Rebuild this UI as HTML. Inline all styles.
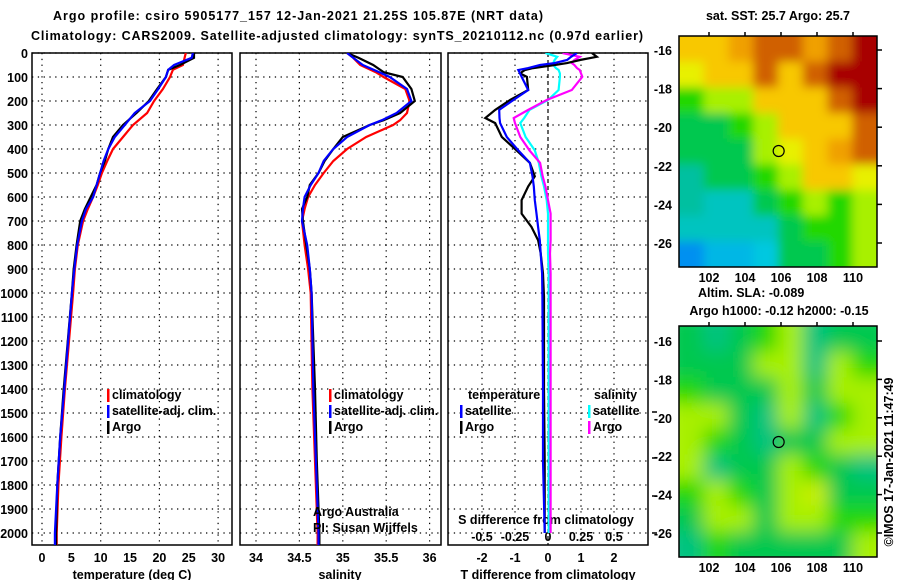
<!DOCTYPE html>
<html><head><meta charset="utf-8"><style>
html,body{margin:0;padding:0;background:#fff;}
svg{display:block;font-family:"Liberation Sans",sans-serif;}
.b{font-weight:bold;font-size:12.5px;}
</style></head><body>
<svg id="c" width="900" height="580" viewBox="0 0 900 580">
<defs>
<clipPath id="cp1"><rect x="32" y="53" width="200" height="492"/></clipPath>
<clipPath id="cp2"><rect x="240" y="53" width="201" height="492"/></clipPath>
<clipPath id="cp3"><rect x="448" y="53" width="200" height="492"/></clipPath>
<clipPath id="cm1"><rect x="679" y="36" width="198" height="231"/></clipPath>
<clipPath id="cm2"><rect x="679" y="326" width="198" height="231"/></clipPath>
<filter id="bl1" x="-10%" y="-10%" width="120%" height="120%"><feGaussianBlur stdDeviation="5"/></filter>
<filter id="bl2" x="-10%" y="-10%" width="120%" height="120%"><feGaussianBlur stdDeviation="9"/></filter>
</defs>
<text x="298" y="20" text-anchor="middle" class="b" textLength="490">Argo profile: csiro 5905177_157 12-Jan-2021 21.25S 105.87E (NRT data)</text>
<text x="337" y="40" text-anchor="middle" class="b" textLength="612">Climatology: CARS2009. Satellite-adjusted climatology: synTS_20210112.nc (0.97d earlier)</text>
<g id="g"></g>
</svg>
<script>
// ---- data ----
const depthsT = [0,20,50,70,100,150,200,250,300,350,400,450,500,550,600,650,700,800,900,1000,1400,1600,1800,2000,2050];
const tempArgo = [25.9,25.9,23.5,21.5,21.1,19.6,18.2,16.1,13.8,12.1,11.3,10.7,9.9,9.3,8.3,7.3,6.5,5.9,5.4,5.1,3.7,3.1,2.6,2.4,2.4];
const tempClim = [24.5,24.3,24.0,22.3,21.8,20.6,19.1,17.9,15.5,13.8,12.1,11.1,10.2,9.5,8.7,7.8,7.0,6.1,5.6,5.3,3.9,3.3,2.8,2.5,2.5];
const tempSat  = [25.7,25.5,22.5,21.5,21.1,19.8,18.4,15.8,14.1,12.4,11.3,10.5,9.9,9.3,8.7,7.5,6.8,6.0,5.5,5.1,3.8,3.1,2.6,2.2,2.2];
const depthsS = [0,20,50,80,100,150,200,250,280,300,350,400,450,500,550,600,650,700,800,900,1000,1400,1700,2000,2050];
const salArgo = [35.05,35.18,35.35,35.47,35.69,35.79,35.83,35.66,35.47,35.31,35.0,34.89,34.79,34.72,34.62,34.59,34.53,34.54,34.58,34.62,34.64,34.68,34.70,34.73,34.73];
const salClim = [35.05,35.12,35.2,35.38,35.47,35.72,35.77,35.74,35.66,35.58,35.27,35.05,34.89,34.78,34.68,34.6,34.56,34.53,34.56,34.6,34.63,34.65,34.68,34.71,34.71];
const salSat  = [35.05,35.12,35.23,35.42,35.54,35.74,35.79,35.62,35.45,35.31,35.05,34.89,34.78,34.72,34.63,34.56,34.54,34.53,34.59,34.62,34.64,34.66,34.69,34.72,34.72];
const depthsD = [0,16,29,42,50,63,71,85,99,154,196,237,271,292,350,406,458,514,556,613,669,725,780,835,919,1016,1400,1700,2000];
const dTArgo = [1.33,1.48,0.97,0.58,0.2,-0.45,-0.7,-0.85,-0.64,-0.6,-1.15,-1.6,-1.9,-1.6,-1.4,-0.95,-0.55,-0.4,-0.6,-0.8,-0.8,-0.5,-0.3,-0.22,-0.15,-0.12,-0.12,-0.1,-0.1];
const dTSat  = [0.88,0.7,0.58,0.2,-0.24,-0.6,-0.9,-0.85,-0.8,-0.6,-1.05,-1.48,-1.47,-1.45,-1.25,-0.9,-0.55,-0.47,-0.43,-0.4,-0.35,-0.3,-0.25,-0.22,-0.18,-0.17,-0.15,-0.15,-0.1];
const dSSat  = [-0.02,0.07,0.05,0.04,0.04,0.06,0.08,0.09,0.09,0.08,0.0,-0.14,-0.18,-0.21,-0.17,-0.1,-0.07,-0.05,-0.03,-0.01,0.0,0.0,0.0,0.0,0.005,0.005,0.005,0.005,0.005];
const dSArgo = [0.11,0.24,0.2,0.18,0.2,0.22,0.24,0.25,0.26,0.18,-0.01,-0.15,-0.26,-0.25,-0.21,-0.14,-0.06,-0.04,-0.02,0.0,0.02,0.02,0.02,0.015,0.02,0.02,0.02,0.02,0.02];
const depthTicks = [0,100,200,300,400,500,600,700,800,900,1000,1100,1200,1300,1400,1500,1600,1700,1800,1900,2000];
const tempTicks = [0,5,10,15,20,25,30];
const salTicks = [34,34.5,35,35.5,36];
const salTickLabels = ["34","34.5","35","35.5","36"];
const dTTicks = [-2,-1,0,1,2];
const dSTicks = [-0.5,-0.25,0,0.25,0.5];
const dSTickLabels = ["-0.5","-0.25","0","0.25","0.5"];
const lonTicks = [102,104,106,108,110];
const latTicks = [-16,-18,-20,-22,-24,-26];
// map colour-index matrices (0 blue .. 10 dark red)
const sstGrid = [
 [7,7,8,9,9,8,9,10],
 [6,7,7,9,7,9,10,10],
 [4,5,5,7,7,7,9,10],
 [3,3,4,5,7,7,7,9],
 [3,3,3,5,6,7,8,9],
 [2,3,3,4,5,7,7,6],
 [2,1.5,1.5,3,4,5,4,5],
 [1.5,1.5,1.5,1.5,3,4,4,5],
 [0,0.7,0.7,1,3,3,4,5]];
const slaGrid = [
 [3,2.4,3,4,5,2.4,3,3],
 [3,3,3,5,5,2.4,5,4],
 [4,3,3,3,5,3,5,5],
 [5,5,3,2.4,5,2.4,4,5],
 [5,4,3,2.4,3,3,5,5],
 [5,2.4,3,3,5,4,3,2.4],
 [4,5,4,3,5,5.5,3,3],
 [3,5,5,3,5,5,4,4],
 [2.4,4,3,3,3,3,3,5]];
// ---- helpers ----
const NS="http://www.w3.org/2000/svg";
const G=document.getElementById('g');
function mk(tag,at,parent){const e=document.createElementNS(NS,tag);for(const k in at)e.setAttribute(k,at[k]);(parent||G).appendChild(e);return e;}
function txt(x,y,s,anchor,cls,parent){const t=mk('text',{x:x,y:y,'text-anchor':anchor||'start','class':cls||'b'},parent);t.textContent=s;return t;}
const yD=d=>53+0.24*d;
const xT=v=>42+5.87*v;
const xS=v=>256+86.8*(v-34);
const xDT=v=>548+33*v;
const xDS=v=>548+132*v;
const panels=[{x:32,w:200,name:'temperature-panel'},{x:240,w:201,name:'salinity-panel'},{x:448,w:200,name:'difference-panel'}];
panels.forEach((p,i)=>{
  const grp=mk('g',{});
  
  
  depthTicks.forEach(d=>{
    const l=mk('line',{x1:p.x,x2:p.x+p.w,y1:yD(d),y2:yD(d),stroke:'#000','stroke-width':1.2,'stroke-dasharray':'1.3 4.5'},grp);
    
    
  });
  const xs=i===0?[0,10,20,30].map(xT):i===1?salTicks.map(xS):dTTicks.map(xDT);
  xs.forEach((x,j)=>{
    const dash=(i===2&&j===2)?'4 3':'1.3 4.5';
    const l=mk('line',{x1:x,x2:x,y1:53,y2:545,stroke:'#000','stroke-width':1.2,'stroke-dasharray':dash},grp);
    
    
  });
  const r=mk('rect',{x:p.x,y:53,width:p.w,height:492,fill:'none',stroke:'#000','stroke-width':1.5},grp);
  
  
});
depthTicks.forEach(d=>{const t=txt(28,yD(d)+5,String(d),'end');
  
  });
tempTicks.forEach(v=>{const t=txt(xT(v),562,String(v),'middle');
  
  });
salTicks.forEach((v,j)=>{const t=txt(xS(v),562,salTickLabels[j],'middle');
  
  });
dTTicks.forEach(v=>{const t=txt(xDT(v),562,String(v),'middle');
  
  });
dSTicks.forEach((v,j)=>{const t=txt(xDS(v),541,dSTickLabels[j],'middle');
  
  });
[[132,'temperature (deg C)','x-axis-title-temperature'],[340,'salinity','x-axis-title-salinity'],[548,'T difference from climatology','x-axis-title-t-diff']].forEach(a=>{
  const t=txt(a[0],579,a[1],'middle');
  
  });
{const t=txt(546,524,'S difference from climatology','middle');
 
 }
[412,458,496,533].forEach(y=>{const l=mk('line',{x1:652,x2:657,y1:y,y2:y,stroke:'#000','stroke-width':1.5});
  
  });
function line(xs,ys,fx,color,clip,name){
  const pts=xs.map((v,k)=>fx(v).toFixed(1)+','+yD(ys[k]).toFixed(1)).join(' ');
  const l=mk('polyline',{points:pts,fill:'none',stroke:color,'stroke-width':2.2,'clip-path':'url(#'+clip+')'});
  
  
}
line(tempClim,depthsT,xT,'#f00','cp1','temperature-climatology-line');
line(tempArgo,depthsT,xT,'#000','cp1','temperature-argo-line');
line(tempSat,depthsT,xT,'#00f','cp1','temperature-satellite-line');
line(salClim,depthsS,xS,'#f00','cp2','salinity-climatology-line');
line(salArgo,depthsS,xS,'#000','cp2','salinity-argo-line');
line(salSat,depthsS,xS,'#00f','cp2','salinity-satellite-line');
line(dSSat,depthsD,xDS,'#0ff','cp3','s-diff-satellite-line');
line(dSArgo,depthsD,xDS,'#f0f','cp3','s-diff-argo-line');
line(dTArgo,depthsD,xDT,'#000','cp3','t-diff-argo-line');
line(dTSat,depthsD,xDT,'#00f','cp3','t-diff-satellite-line');
function leg(x,y,color,label,name){
  const r=mk('rect',{x:x,y:y-10,width:2.5,height:13,fill:color});
  
  
  const t=txt(x+5,y,label);
  
  
}
leg(107,399,'#f00','climatology','legend-temp-climatology');
leg(107,415,'#00f','satellite-adj. clim.','legend-temp-satellite');
leg(107,431,'#000','Argo','legend-temp-argo');
leg(329,399,'#f00','climatology','legend-sal-climatology');
leg(329,415,'#00f','satellite-adj. clim.','legend-sal-satellite');
leg(329,431,'#000','Argo','legend-sal-argo');
{const t=txt(468,399,'temperature');}
{const t=txt(594,399,'salinity');}
leg(460,415,'#00f','satellite','legend-diff-t-satellite');
leg(460,431,'#000','Argo','legend-diff-t-argo');
leg(588,415,'#0ff','satellite','legend-diff-s-satellite');
leg(588,431,'#f0f','Argo','legend-diff-s-argo');
{const t=txt(313,516,'Argo Australia','start','');t.setAttribute('font-size','11.5');}
{const t=txt(313,532,'PI: Susan Wijffels','start','');t.setAttribute('font-size','11.5');}
// ---- maps ----
const pal=['#0090f0','#00c8e0','#00c0a0','#00c850','#20d800','#a8f000','#e8f000','#f8c800','#f0a000','#d06000','#a80000'];
function col(v){const i=Math.max(0,Math.min(10,v));const a=Math.floor(i),b=Math.min(10,a+1),f=i-a;
  const h=c=>[parseInt(c.substr(1,2),16),parseInt(c.substr(3,2),16),parseInt(c.substr(5,2),16)];
  const A=h(pal[a]),B=h(pal[b]);return 'rgb('+A.map((x,k)=>Math.round(x+(B[k]-x)*f)).join(',')+')';}
function map(grid,top,clip,filt,name,latY0,latStep,circY){
  const g=mk('g',{'clip-path':'url(#'+clip+')'});
  
  
  const inner=mk('g',{filter:'url(#'+filt+')'},g);
  const cw=198/8,ch=231/9;
  grid.forEach((row,r)=>row.forEach((v,c)=>{
    mk('rect',{x:679+c*cw-(c===0?15:0),y:top+r*ch-(r===0?15:0),width:cw+1+(c===0||c===7?15:0),height:ch+1+(r===0||r===8?15:0),fill:col(v)},inner);
  }));
  const fr=mk('rect',{x:679,y:top,width:198,height:231,fill:'none',stroke:'#000','stroke-width':1.5});
  
  
  const xl=v=>781+(v-106)*18;
  lonTicks.forEach(v=>{
    mk('line',{x1:xl(v),x2:xl(v),y1:top,y2:top-4,stroke:'#000','stroke-width':1.5});
    const t=txt(xl(v),top+246,String(v),'middle');
    
    
  });
  latTicks.forEach(v=>{
    const y=latY0+(-16-v)*latStep;
    mk('line',{x1:877,x2:882,y1:y,y2:y,stroke:'#000','stroke-width':1.5});
    const t=txt(672,y+5,String(v),'end');
    
    
  });
  const c=mk('circle',{cx:xl(105.87),cy:circY,r:5.5,fill:'none',stroke:'#000','stroke-width':1.2});
  
  
}
map(sstGrid,36,'cm1','bl1','sst-map',50,19.3,151);
map(slaGrid,326,'cm2','bl2','sla-map',341,19.2,442);
{const t=txt(778,20,'sat. SST: 25.7  Argo: 25.7','middle');}
{const t=txt(698,297,'Altim. SLA: -0.089','start');}
{const t=txt(779,315,'Argo h1000: -0.12 h2000: -0.15','middle');}
{const t=txt(0,0,'©IMOS 17-Jan-2021 11:47:49','middle','');t.setAttribute('font-size','12');t.setAttribute('transform','translate(893,462) rotate(-90)');}
</script>
</body></html>
